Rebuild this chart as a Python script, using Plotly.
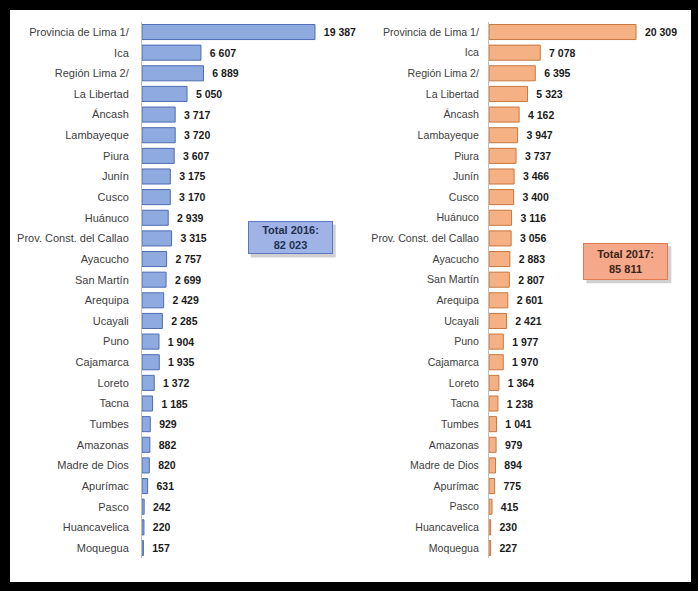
import plotly.graph_objects as go

W, H = 698, 591

regions = ["Provincia de Lima 1/", "Ica", "Región Lima 2/", "La Libertad", "Áncash",
           "Lambayeque", "Piura", "Junín", "Cusco", "Huánuco", "Prov. Const. del Callao",
           "Ayacucho", "San Martín", "Arequipa", "Ucayali", "Puno", "Cajamarca", "Loreto",
           "Tacna", "Tumbes", "Amazonas", "Madre de Dios", "Apurímac", "Pasco",
           "Huancavelica", "Moquegua"]
values_2016 = [19387, 6607, 6889, 5050, 3717, 3720, 3607, 3175, 3170, 2939, 3315, 2757,
               2699, 2429, 2285, 1904, 1935, 1372, 1185, 929, 882, 820, 631, 242, 220, 157]
values_2017 = [20309, 7078, 6395, 5323, 4162, 3947, 3737, 3466, 3400, 3116, 3056, 2883,
               2807, 2601, 2421, 1977, 1970, 1364, 1238, 1041, 979, 894, 775, 415, 230, 227]
total_2016 = "Total 2016:<br>82 023"
total_2017 = "Total 2017:<br>85 811"


def fmt(v):
    return "\u00a0\u00a0" + f"{v:,}".replace(",", " ")


def px_x(p):
    return p / W


def px_y(p):
    return 1 - p / H


fig = go.Figure()
fig.add_trace(go.Bar(
    y=regions, x=values_2016, orientation="h", xaxis="x", yaxis="y",
    marker=dict(color="#8eaade", line=dict(color="#4d6db3", width=1)),
    text=[fmt(v) for v in values_2016], textposition="outside", cliponaxis=False,
    constraintext="none",
    textfont=dict(family="Liberation Sans", size=10.5, color="#1a1a1a", weight="bold"),
    hoverinfo="skip"))
fig.add_trace(go.Bar(
    y=regions, x=values_2017, orientation="h", xaxis="x2", yaxis="y2",
    marker=dict(color="#f5b184", line=dict(color="#c8773f", width=1)),
    text=[fmt(v) for v in values_2017], textposition="outside", cliponaxis=False,
    constraintext="none",
    textfont=dict(family="Liberation Sans", size=10.5, color="#1a1a1a", weight="bold"),
    hoverinfo="skip"))

ydom = [px_y(558.3), px_y(21.7)]
common_x = dict(range=[0, 22000], showgrid=False, zeroline=False, showticklabels=False,
                showline=False, fixedrange=True)
common_y = dict(type="category", range=[25.5, -0.5], showgrid=False, zeroline=False,
                showline=True, linecolor="#bfbfbf", linewidth=1, ticks="outside",
                tickcolor="rgba(0,0,0,0)", domain=ydom, fixedrange=True,
                tickfont=dict(family="Liberation Sans", size=11, color="#404040"))

fig.update_layout(
    width=W, height=H,
    margin=dict(l=0, r=0, t=0, b=0, autoexpand=False),
    paper_bgcolor="black", plot_bgcolor="rgba(0,0,0,0)",
    showlegend=False, bargap=0.27,
    xaxis=dict(domain=[px_x(142), px_x(338.3)], anchor="y", **common_x),
    yaxis=dict(anchor="x", ticklen=10, automargin=False, **common_y),
    xaxis2=dict(domain=[px_x(489), px_x(648.3)], anchor="y2", **common_x),
    yaxis2=dict(anchor="x2", ticklen=7, automargin=False,
                **{**common_y, "tickfont": dict(family="Liberation Sans", size=10.6, color="#404040")}),
)

# white sheet inside black frame
fig.add_shape(type="rect", xref="paper", yref="paper", layer="below",
              x0=px_x(10), x1=px_x(691), y0=px_y(582), y1=px_y(10),
              fillcolor="white", line=dict(width=0))

# total boxes (shadow + annotation)
for (cx, cy, w, h, txt, fill, border, tcol) in [
    (290.2, 238.0, 85, 33, total_2016, "#9fb3e6", "#5b77c0", "#1f3050"),
    (625.8, 261.7, 85, 37, total_2017, "#f6a98a", "#e07b52", "#3a2418"),
]:
    fig.add_shape(type="rect", xref="paper", yref="paper", layer="above",
                  x0=px_x(cx - w / 2 + 3), x1=px_x(cx + w / 2 + 3),
                  y0=px_y(cy + h / 2 + 3), y1=px_y(cy - h / 2 + 3),
                  fillcolor="rgba(120,120,120,0.35)", line=dict(width=0))
    fig.add_annotation(xref="paper", yref="paper", x=px_x(cx), y=px_y(cy),
                       xanchor="center", yanchor="middle", showarrow=False,
                       text=f"<b>{txt}</b>", width=w - 2, height=h - 2,
                       bgcolor=fill, bordercolor=border, borderwidth=1, borderpad=0,
                       font=dict(family="Liberation Sans", size=11, color=tcol), align="center")

fig.write_html("out.html", config={"displayModeBar": False},
               post_script="document.body.style.margin='0';document.body.style.background='white';")
